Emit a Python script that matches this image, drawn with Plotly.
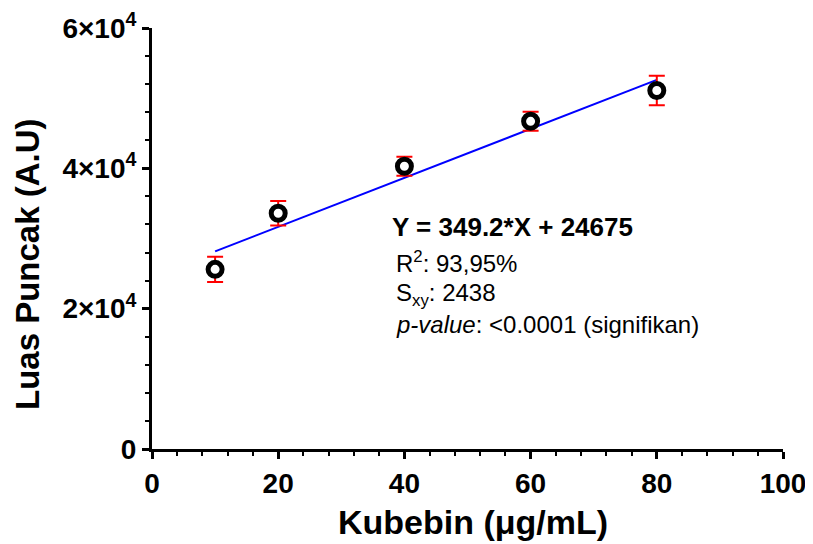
import plotly.graph_objects as go

# ---- data ----
conc = [10, 20, 40, 60, 80]                    # Kubebin (µg/mL)
area = [25600, 33600, 40300, 46700, 51100]     # Luas Puncak (A.U)
area_sd = [1800, 1750, 1350, 1350, 2100]
slope = 349.2
intercept = 24675
fit_x = [10, 80]
fit_y = [slope * x + intercept for x in fit_x]
y_tickvals = [0, 20000, 40000, 60000]
y_ticktext = ["0", "2×10<sup>4</sup>", "4×10<sup>4</sup>", "6×10<sup>4</sup>"]
x_tickvals = [0, 20, 40, 60, 80, 100]

FONT = "Liberation Sans, Arial, sans-serif"
OFF = 8  # default page body margin
W, H = 813 - OFF, 544 - OFF
# plot area in page pixels: x 152..783, y 28..449
L, R, T, B = 152 - OFF, 30, 28 - OFF, 95
pw, ph = W - L - R, H - T - B


def px(x):
    return (x - OFF - L) / pw


def py(y):
    return (H - B - (y - OFF)) / ph


fig = go.Figure()
fig.add_trace(go.Scatter(x=fit_x, y=fit_y, mode="lines",
                         line=dict(color="#0000FF", width=2), showlegend=False))
fig.add_trace(go.Scatter(
    x=conc, y=area, mode="markers", showlegend=False,
    marker=dict(symbol="circle", size=14, color="white",
                line=dict(color="black", width=5)),
    error_y=dict(type="data", array=area_sd, visible=True,
                 color="#FF0000", thickness=2, width=8),
))

axis_common = dict(showgrid=False, zeroline=False, showline=True,
                   linecolor="black", linewidth=3, ticks="outside",
                   ticklen=7, tickwidth=3, tickcolor="black", automargin=False,
                   tickfont=dict(family=FONT, size=28, color="black", weight="bold"))

fig.update_xaxes(range=[0, 100], tickmode="array", tickvals=x_tickvals,
                 minor=dict(dtick=4, tick0=0, ticks="outside", ticklen=4,
                            tickwidth=2, tickcolor="black"),
                 **axis_common)
fig.update_yaxes(range=[0, 60000], tickmode="array", tickvals=y_tickvals,
                 ticktext=y_ticktext,
                 minor=dict(dtick=4000, tick0=0, ticks="outside", ticklen=4,
                            tickwidth=2, tickcolor="black"),
                 **axis_common)

ann = [
    dict(text="<b>Y = 349.2*X + 24675</b>", x=px(390), y=py(227),
         xanchor="left", yanchor="middle", font=dict(size=26)),
    dict(text="R<sup>2</sup>: 93,95%", x=px(394), y=py(262),
         xanchor="left", yanchor="middle", font=dict(size=24)),
    dict(text="S<sub>xy</sub>: 2438", x=px(394), y=py(294),
         xanchor="left", yanchor="middle", font=dict(size=24)),
    dict(text="<i>p-value</i>: &lt;0.0001 (signifikan)", x=px(394), y=py(324),
         xanchor="left", yanchor="middle", font=dict(size=24)),
    dict(text="<b>Kubebin (μg/mL)</b>", x=px(473), y=py(522),
         xanchor="center", yanchor="middle", font=dict(size=34)),
    dict(text="<b>Luas Puncak (A.U)</b>", x=px(27), y=py(264), textangle=-90,
         xanchor="center", yanchor="middle", font=dict(size=33)),
]
for a in ann:
    a.update(xref="paper", yref="paper", showarrow=False)
    a["font"].update(family=FONT, color="black")

fig.update_layout(width=W, height=H, margin=dict(l=L, r=R, t=T, b=B),
                  plot_bgcolor="white", paper_bgcolor="white",
                  annotations=ann, font=dict(family=FONT, color="black"))

fig.write_html("out.html")
